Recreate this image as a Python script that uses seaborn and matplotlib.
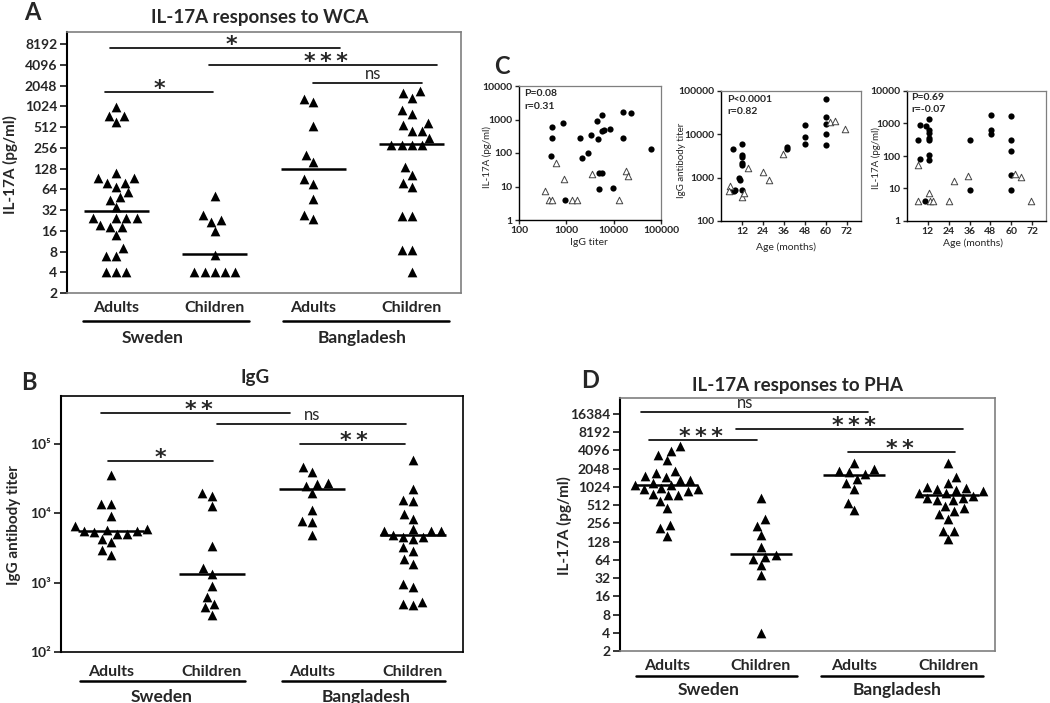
import matplotlib
matplotlib.use('Agg')
import matplotlib.pyplot as plt
import matplotlib.transforms as mtransforms
from matplotlib.ticker import NullLocator
import seaborn as sns
import numpy as np
import pandas as pd

groups = ['Sweden Adults', 'Sweden Children', 'Bangladesh Adults', 'Bangladesh Children']
group_ticks = ['Adults', 'Children', 'Adults', 'Children']
countries = ['Sweden', 'Bangladesh']

# --- A: IL-17A responses to WCA (pg/ml) ---
wca_swe_adults = [1000, 740, 740, 596, 111, 93, 93, 79, 79, 68, 58, 49, 45, 35,
                  24.5, 24.5, 24.5, 24.5, 19.6, 18, 18, 13.9, 8.9, 7, 7, 4, 4, 4]
wca_swe_children = [51.6, 27, 22.6, 21.6, 16, 7.1, 4, 4, 4, 4, 4]
wca_bgd_adults = [1325, 1185, 522, 198, 160, 89, 76, 46.6, 27.3, 23.4]
wca_bgd_children = [1680, 1600, 1360, 910, 797, 584, 545, 452, 452, 352, 280, 280,
                    280, 280, 134, 104, 79, 68, 25.8, 25.8, 8.5, 8.5, 4]
wca_medians = [31, 7.3, 127, 290]
# (x start, x end, y, label, label x)
wca_sig = [(-0.06, 2.27, 7230, '*', 1.17), (0.94, 3.26, 4096, '***', 2.13),
           (2.0, 3.1, 2200, 'ns', 2.61), (-0.11, 0.98, 1630, '*', 0.44)]

# --- B: IgG antibody titer ---
igg_swe_adults = [36100, 13800, 13800, 9060, 6450, 5960, 5820, 5620, 5500, 5320,
                  5090, 5090, 4310, 3860, 2920, 2530]
igg_swe_children = [19700, 18000, 12600, 3420, 1610, 1350, 885, 614, 498, 440, 345]
igg_bgd_adults = [46700, 39600, 27500, 26000, 25100, 19700, 11300, 7830, 7580, 4820]
igg_bgd_children = [58200, 22700, 15700, 15200, 9770, 8290, 6000, 5620, 5620, 5500,
                    4900, 4570, 4570, 4270, 3270, 2900, 2190, 1880, 968, 867, 520, 498, 471]
igg_medians = [5620, 1350, 22700, 4820]
igg_sig = [(-0.1, 1.78, 281000, '**', 0.87), (1.05, 2.93, 192000, 'ns', 2.0),
           (1.88, 2.92, 101000, '**', 2.41), (-0.03, 1.01, 56200, '*', 0.49)]

# --- D: IL-17A responses to PHA (pg/ml) ---
pha_swe_adults = [4740, 4010, 3440, 2850, 1830, 1720, 1550, 1510, 1330, 1330, 1200,
                  1100, 1100, 995, 946, 946, 855, 783, 753, 753, 600, 455, 240, 212, 159]
pha_swe_children = [664, 298, 232, 164, 103, 76, 72, 66, 52, 35.5, 4]
pha_bgd_adults = [2520, 2000, 1830, 1760, 1680, 1370, 1200, 956, 560, 424]
pha_bgd_children = [2520, 1480, 1180, 1030, 995, 935, 910, 855, 822, 803, 734, 664,
                    664, 623, 623, 495, 455, 410, 367, 302, 194, 194, 140]
pha_medians = [1100, 79, 1600, 753]
pha_sig = [(-0.28, 2.14, 17500, 'ns', 0.83), (0.74, 3.16, 9280, '***', 1.99),
           (-0.19, 0.96, 6040, '***', 0.36), (1.93, 3.07, 3770, '**', 2.48)]

# --- C: correlations (filled = IL-17A responders, open = others) ---
c1_igg_filled = [508, 508, 850, 468, 920, 1930, 2160, 2890, 3280, 4470, 4690, 5690,
                 5690, 6150, 8350, 4830, 5580, 4990, 9660, 15400, 23700, 15900, 60500]
c1_il17_filled = [582, 273, 787, 79, 4, 286, 69, 102, 352, 900, 267, 1330,
                  442, 473, 520, 26, 26, 8.4, 8.8, 1630, 1590, 280, 132]
c1_igg_open = [617, 890, 351, 432, 500, 1310, 1640, 3510, 18100, 20200, 12700]
c1_il17_open = [52, 16.7, 7.5, 4, 4, 4, 4, 23, 29.6, 21, 4]

c2_age_filled = [7, 6.3, 7.5, 8, 10.1, 11, 12, 12, 12, 12, 12, 12, 37.6, 37.6,
                 48, 48, 48, 60, 60, 60, 60, 60]
c2_igg_filled = [4700, 500, 480, 520, 980, 890, 6000, 3400, 3000, 2200, 2000, 525,
                 5100, 4700, 16300, 8700, 6000, 66000, 25000, 17000, 10200, 5800]
c2_age_open = [5.3, 4.4, 12, 13.3, 15.4, 24.2, 27.3, 35.3, 62.3, 65, 71]
c2_igg_open = [630, 480, 364, 440, 1670, 1370, 900, 3550, 19000, 20800, 13500]

c3_age_filled = [7.5, 6.2, 7.5, 10.3, 11, 12.4, 12.4, 12.4, 12.4, 12.4, 12.4, 12.4,
                 36.1, 36.1, 48.5, 48.5, 48.5, 60.1, 60.1, 60.1, 60.1, 60.1]
c3_il17_filled = [900, 300, 83, 4.2, 830, 1400, 630, 520, 363, 300, 110, 73,
                  300, 8.7, 1780, 610, 490, 1700, 300, 140, 26.5, 9.1]
c3_age_open = [6.2, 6.2, 12.4, 13, 15, 24.3, 27.2, 35, 62.3, 65.6, 71.6]
c3_il17_open = [54, 4, 7.5, 4, 4, 4, 16.5, 23.5, 28.5, 22.5, 4]

sns.set_style('white')
plt.rcParams['font.family'] = ['Lato', 'DejaVu Sans']

W, H = 1050, 703
fig = plt.figure(figsize=(W / 100, H / 100), dpi=100)


def box(l, t, r, b):
    return [l / W, 1 - b / H, (r - l) / W, (b - t) / H]


def ftext(x, y, s, **kw):
    fig.text(x / W, 1 - y / H, s, ha=kw.pop('ha', 'center'), va=kw.pop('va', 'center'), **kw)


def dot_panel(ax, vals, medians, sig, base, yticks, ylabels, ylim,
              spans, names_x, line_y, name_y, tick_pad, frame):
    df = pd.DataFrame({'group': np.repeat(groups, [len(v) for v in vals]),
                       'value': np.concatenate(vals)})
    sns.swarmplot(data=df, x='group', y='value', order=groups, marker='^',
                  color='black', size=7, linewidth=0, ax=ax, log_scale=base)
    ax.hlines(medians, np.arange(4) - 0.33, np.arange(4) + 0.33, color='black', lw=1.8)
    for x0, x1, y, lab, lx in sig:
        ax.plot([x0, x1], [y, y], color='black', lw=1.2)
        if lab == 'ns':
            ax.annotate(lab, (lx, y), xytext=(0, 1), textcoords='offset points',
                        ha='center', va='bottom', fontsize=12)
        else:
            ax.annotate('\u2009'.join(lab), (lx, y), xytext=(0, -5), textcoords='offset points',
                        ha='center', va='bottom', fontsize=16, fontweight='bold',
                        family='DejaVu Sans')
    ax.set_yticks(yticks)
    ax.set_yticklabels(ylabels, fontweight='bold', fontsize=10)
    ax.yaxis.set_minor_locator(NullLocator())
    ax.set_ylim(*ylim)
    ax.set_xlim(-0.5, 3.5)
    ax.set_xticks(range(4))
    ax.set_xticklabels(group_ticks, fontweight='bold', fontsize=11.5)
    ax.tick_params(axis='x', length=0, pad=tick_pad)
    ax.tick_params(axis='y', direction='out', length=5, width=1.3, pad=2, left=True)
    ax.set_xlabel('')
    ax.set_ylabel('')
    for side in ['top', 'right', 'bottom']:
        ax.spines[side].set_color(frame)
        ax.spines[side].set_linewidth(1.2)
    ax.spines['left'].set_color('black')
    ax.spines['left'].set_linewidth(1.5)
    trans = mtransforms.blended_transform_factory(ax.transData, ax.transAxes)
    for (x0, x1), name, tx in zip(spans, countries, names_x):
        ax.plot([x0, x1], [line_y, line_y], transform=trans, clip_on=False,
                color='black', lw=1.8)
        ax.text(tx, name_y, name, transform=trans, ha='center', va='center',
                fontsize=12.5, fontweight='bold')


pow2 = [2 ** k for k in range(1, 14)]

# Panel A
axA = fig.add_axes(box(67, 32, 461, 293))
dot_panel(axA, [wca_swe_adults, wca_swe_children, wca_bgd_adults, wca_bgd_children],
          wca_medians, wca_sig, 2, pow2, [str(v) for v in pow2], (2, 12250),
          [(-0.34, 1.35), (1.69, 3.38)], [0.37, 2.5], -0.107, -0.172, 6, '#7f7f7f')

# Panel B
axB = fig.add_axes(box(61, 396, 463, 652))
dec = [100, 1000, 10000, 100000]
dot_panel(axB, [igg_swe_adults, igg_swe_children, igg_bgd_adults, igg_bgd_children],
          igg_medians, igg_sig, 10, dec, ['10²', '10³', '10⁴', '10⁵'], (100, 490000),
          [(-0.31, 1.33), (1.70, 3.32)], [0.5, 2.54], -0.112, -0.175, 9, 'black')

# Panel D
axD = fig.add_axes(box(620, 398, 995, 651))
pow2d = [2 ** k for k in range(1, 15)]
dot_panel(axD, [pha_swe_adults, pha_swe_children, pha_bgd_adults, pha_bgd_children],
          pha_medians, pha_sig, 2, pow2d, [str(v) for v in pow2d], (2, 29800),
          [(-0.33, 1.39), (1.64, 3.37)], [0.44, 2.46], -0.10, -0.154, 6, '#7f7f7f')


def corr_panel(ax, xf, yf, xo, yo):
    sns.scatterplot(x=xf, y=yf, marker='o', color='black', s=20, linewidth=0, ax=ax)
    sns.scatterplot(x=xo, y=yo, marker='^', color='white', edgecolor='#444444',
                    s=22, linewidth=0.7, ax=ax)
    ax.set_yscale('log')
    ax.yaxis.set_minor_locator(NullLocator())
    ax.tick_params(axis='both', direction='out', length=3, width=1, labelsize=7.5, pad=1.5,
                   left=True, bottom=True)
    for side in ['top', 'right']:
        ax.spines[side].set_color('#7f7f7f')
        ax.spines[side].set_linewidth(0.9)
    for side in ['left', 'bottom']:
        ax.spines[side].set_color('black')
        ax.spines[side].set_linewidth(1.0)


# Panel C1
axC1 = fig.add_axes(box(519, 86, 661, 220))
corr_panel(axC1, c1_igg_filled, c1_il17_filled, c1_igg_open, c1_il17_open)
axC1.set_xscale('log')
axC1.xaxis.set_minor_locator(NullLocator())
axC1.set_xlim(100, 100000)
axC1.set_ylim(1, 10000)
axC1.set_xticks([100, 1000, 10000, 100000])
axC1.set_xticklabels(['100', '1000', '10000', '100000'], fontweight='bold', fontsize=7.5)
axC1.set_yticks([1, 10, 100, 1000, 10000])
axC1.set_yticklabels(['1', '10', '100', '1000', '10000'], fontweight='bold', fontsize=7.5)

# Panel C2
axC2 = fig.add_axes(box(721, 91, 861, 221))
corr_panel(axC2, c2_age_filled, c2_igg_filled, c2_age_open, c2_igg_open)
axC2.set_xlim(0, 80)
axC2.set_ylim(100, 100000)
axC2.set_xticks([12, 24, 36, 48, 60, 72])
axC2.set_xticklabels(['12', '24', '36', '48', '60', '72'], fontweight='bold', fontsize=7.5)
axC2.set_yticks([100, 1000, 10000, 100000])
axC2.set_yticklabels(['100', '1000', '10000', '100000'], fontweight='bold', fontsize=7.5)

# Panel C3
axC3 = fig.add_axes(box(907, 91, 1046, 221))
corr_panel(axC3, c3_age_filled, c3_il17_filled, c3_age_open, c3_il17_open)
axC3.set_xlim(0, 80)
axC3.set_ylim(1, 10000)
axC3.set_xticks([12, 24, 36, 48, 60, 72])
axC3.set_xticklabels(['12', '24', '36', '48', '60', '72'], fontweight='bold', fontsize=7.5)
axC3.set_yticks([1, 10, 100, 1000, 10000])
axC3.set_yticklabels(['1', '10', '100', '1000', '10000'], fontweight='bold', fontsize=7.5)

# titles, axis labels, panel letters
ftext(260, 18, 'IL-17A responses to WCA', fontsize=13.5, fontweight='bold')
ftext(255, 378, 'IgG', fontsize=13.5, fontweight='bold')
ftext(797, 386, 'IL-17A responses to PHA', fontsize=13.5, fontweight='bold')
ftext(10, 165, 'IL-17A (pg/ml)', fontsize=11, fontweight='bold', rotation=90)
ftext(14, 525, 'IgG antibody titer', fontsize=11, fontweight='bold', rotation=90)
ftext(564, 526, 'IL-17A (pg/ml)', fontsize=11, fontweight='bold', rotation=90)
ftext(32, 12, 'A', fontsize=17, fontweight='bold')
ftext(29, 383, 'B', fontsize=17, fontweight='bold')
ftext(502, 67, 'C', fontsize=17, fontweight='bold')
ftext(590, 381, 'D', fontsize=17, fontweight='bold')

ftext(487, 157, 'IL-17A (pg/ml)', fontsize=7, rotation=90)
ftext(682, 160, 'IgG antibody titer', fontsize=7, rotation=90)
ftext(876, 158, 'IL-17A (pg/ml)', fontsize=7, rotation=90)
ftext(589, 243, 'IgG titer', fontsize=7.5)
ftext(786, 247, 'Age (months)', fontsize=7.5)
ftext(973, 243, 'Age (months)', fontsize=7.5)

ftext(524, 94, 'P=0.08', fontsize=7.5, fontweight='bold', ha='left')
ftext(524, 106.5, 'r=0.31', fontsize=7.5, fontweight='bold', ha='left')
ftext(727, 99, 'P<0.0001', fontsize=7.5, fontweight='bold', ha='left')
ftext(727, 111, 'r=0.82', fontsize=7.5, fontweight='bold', ha='left')
ftext(911, 97, 'P=0.69', fontsize=7.5, fontweight='bold', ha='left')
ftext(911, 109, 'r=-0.07', fontsize=7.5, fontweight='bold', ha='left')

fig.savefig('out.png', dpi=100)
